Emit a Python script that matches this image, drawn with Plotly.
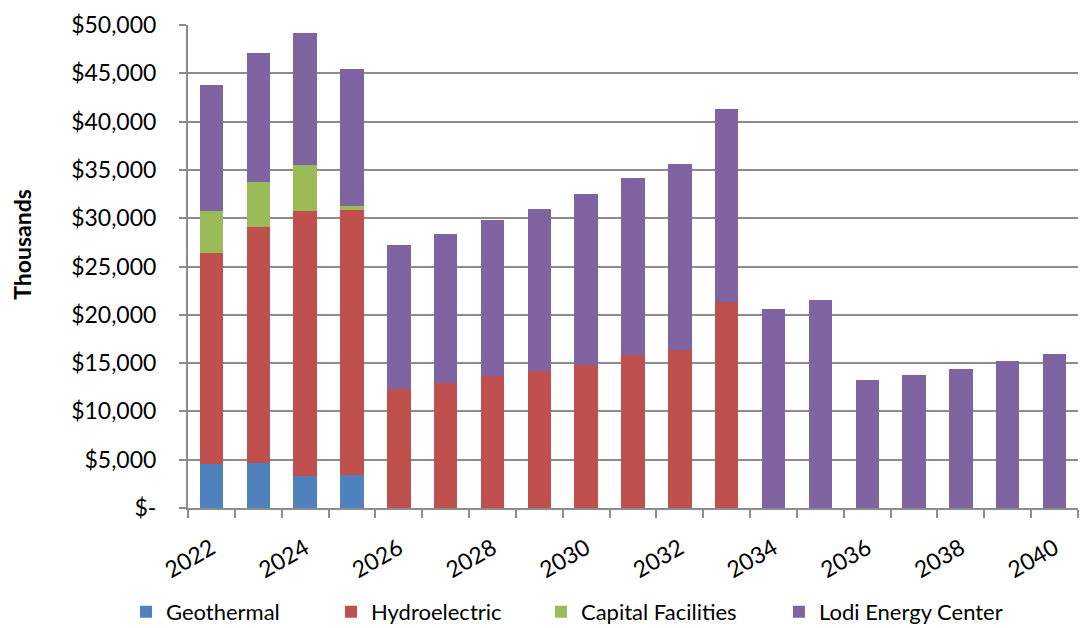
import plotly.graph_objects as go

years = [str(y) for y in range(2022, 2041)]
tick_labels = [y if int(y) % 2 == 0 else "" for y in years]

geothermal = [4600, 4700, 3300, 3400, 0, 0, 0, 0, 0, 0, 0, 0, 0, 0, 0, 0, 0, 0, 0]
hydroelectric = [21800, 24400, 27400, 27500, 12300, 12900, 13700, 14150, 14800, 15800, 16400, 21300,
                 0, 0, 0, 0, 0, 0, 0]
capital = [4300, 4600, 4800, 400, 0, 0, 0, 0, 0, 0, 0, 0, 0, 0, 0, 0, 0, 0, 0]
lodi = [13100, 13400, 13700, 14100, 14900, 15500, 16100, 16850, 17700, 18400, 19200, 20000,
        20600, 21550, 13200, 13800, 14400, 15200, 15900]

series = [
    ("Geothermal", geothermal, "#4F81BD"),
    ("Hydroelectric", hydroelectric, "#C0504D"),
    ("Capital Facilities", capital, "#9BBB59"),
    ("Lodi Energy Center", lodi, "#8064A2"),
]
legend_ids = ["legend", "legend2", "legend3", "legend4"]
legend_x = [-0.0697, 0.1607, 0.3966, 0.6640]

y_ticks = list(range(0, 50001, 5000))
y_tick_text = ["$-"] + [f"${v:,}" for v in y_ticks[1:]]

fig = go.Figure()
for (name, vals, color), lid in zip(series, legend_ids):
    fig.add_trace(go.Bar(
        x=years, y=vals, name=name, legend=lid,
        marker=dict(color=color, line=dict(width=0)),
    ))

font = "Lato, 'Open Sans', sans-serif"
grid = "#8c8c8c"
legend_common = dict(orientation="h", xanchor="left", y=-0.215, yanchor="middle",
                     font=dict(size=22), itemwidth=30, bgcolor="rgba(0,0,0,0)")
legends = {lid: dict(x=lx, **legend_common) for lid, lx in zip(legend_ids, legend_x)}

fig.update_layout(
    barmode="stack",
    bargap=0.5,
    width=1085, height=628,
    margin=dict(l=188, r=7, t=25, b=120, autoexpand=False),
    plot_bgcolor="white", paper_bgcolor="white",
    font=dict(family=font, size=22, color="black"),
    showlegend=True,
    **legends,
    xaxis=dict(
        type="category", automargin=False,
        tickmode="array", tickvals=years, ticktext=tick_labels,
        tickangle=-30, tickson="boundaries", ticks="outside", ticklen=8,
        tickcolor=grid, tickwidth=2, ticklabelstandoff=16,
        showline=True, linecolor=grid, linewidth=2,
        showgrid=False, tickfont=dict(size=23),
    ),
    yaxis=dict(
        range=[0, 50000], tickvals=y_ticks, ticktext=y_tick_text, automargin=False,
        ticks="outside", ticklen=7, tickcolor=grid, tickwidth=2,
        ticklabelstandoff=18,
        showline=True, linecolor=grid, linewidth=2,
        showgrid=True, gridcolor=grid, gridwidth=2,
        zeroline=False,
        tickfont=dict(size=23),
    ),
    annotations=[dict(
        text="<b>Thousands</b>", textangle=-90, showarrow=False,
        xref="paper", yref="paper", x=-0.1865, y=0.545,
        xanchor="center", yanchor="middle", font=dict(size=23),
    )],
)

fig.write_html("out.html")
